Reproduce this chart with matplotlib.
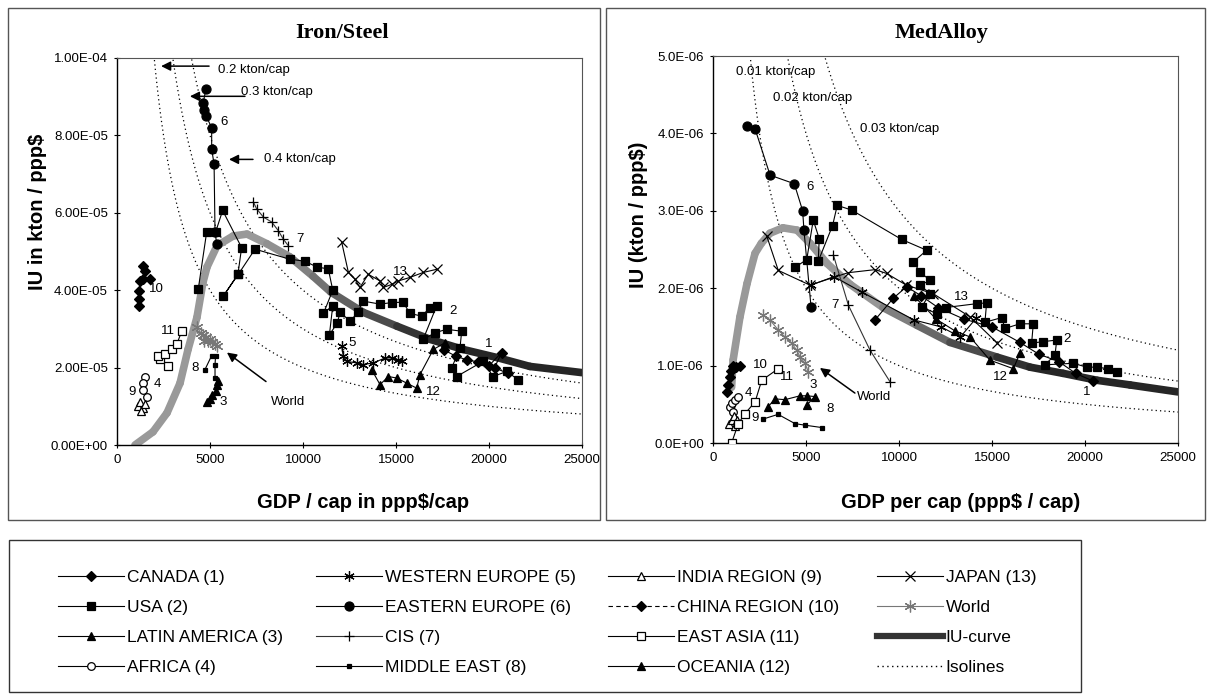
import numpy as np
import matplotlib
matplotlib.use("Agg")
import matplotlib.pyplot as plt
from matplotlib.lines import Line2D
from matplotlib.patches import Rectangle
from matplotlib.collections import LineCollection
from matplotlib.ticker import FuncFormatter, MultipleLocator

plt.rcParams['font.family'] = ['Liberation Sans', 'DejaVu Sans']

W, H = 1207, 697

# ---------------- Iron/Steel data (x: GDP/cap, y: IU kton/ppp$) ----------------
L_IU_X = [968, 1935, 2690, 3390, 3820, 4300, 4620, 4840, 5380, 6240, 6990, 8060, 9300,
          10540, 11500, 13230, 15050, 16830, 18600, 20430, 22200, 25000]
L_IU_Y = [0.0, 0.34e-5, 0.83e-5, 1.6e-5, 2.47e-5, 3.3e-5, 4.2e-5, 4.6e-5, 5.15e-5, 5.4e-5,
          5.45e-5, 5.2e-5, 4.86e-5, 4.36e-5, 3.95e-5, 3.43e-5, 3.07e-5, 2.73e-5, 2.47e-5,
          2.26e-5, 2.03e-5, 1.87e-5]
L_ISO = [0.2, 0.3, 0.4]

L_CANADA_X = [17600, 18200, 18800, 19400, 20000, 20680, 20300, 21000]
L_CANADA_Y = [2.45e-5, 2.3e-5, 2.2e-5, 2.15e-5, 2.05e-5, 2.39e-5, 2.0e-5, 1.85e-5]
L_USA_X = [4370, 4820, 5300, 5680, 6700, 6500, 5720, 6520, 7420, 9300, 10100, 10740, 11360,
           11600, 11100, 11600, 11420, 11830, 12000, 12530, 12960, 13220, 14140, 14770, 15380,
           15750, 16380, 16830, 17190, 16460, 17100, 17720, 18530, 18440, 18000, 18260, 19680,
           20220, 20950, 21560]
L_USA_Y = [4.03e-5, 5.5e-5, 5.5e-5, 6.06e-5, 5.1e-5, 4.41e-5, 3.85e-5, 4.41e-5, 5.06e-5,
           4.8e-5, 4.75e-5, 4.6e-5, 4.55e-5, 4.0e-5, 3.4e-5, 3.6e-5, 2.85e-5, 3.14e-5, 3.43e-5,
           3.2e-5, 3.43e-5, 3.72e-5, 3.64e-5, 3.68e-5, 3.69e-5, 3.4e-5, 3.33e-5, 3.55e-5,
           3.6e-5, 2.73e-5, 2.9e-5, 2.99e-5, 2.94e-5, 2.5e-5, 2.0e-5, 1.77e-5, 2.16e-5,
           1.77e-5, 1.9e-5, 1.69e-5]
L_LATAM_X = [4850, 5000, 5100, 5300, 5400, 5450]
L_LATAM_Y = [1.1e-5, 1.2e-5, 1.3e-5, 1.4e-5, 1.55e-5, 1.65e-5]
L_AFRICA_X = [1500, 1410, 1410, 1590]
L_AFRICA_Y = [1.77e-5, 1.6e-5, 1.43e-5, 1.25e-5]
L_WEUR_X = [12080, 12170, 12350, 12890, 13240, 13780, 14410, 14770, 15130, 15310]
L_WEUR_Y = [2.55e-5, 2.29e-5, 2.16e-5, 2.12e-5, 2.08e-5, 2.12e-5, 2.25e-5, 2.25e-5, 2.2e-5, 2.16e-5]
L_EEUR_X = [4780, 4640, 4680, 4790, 5090, 5090, 5220, 5270, 5360]
L_EEUR_Y = [9.2e-5, 8.85e-5, 8.65e-5, 8.5e-5, 8.2e-5, 7.65e-5, 7.25e-5, 5.5e-5, 5.2e-5]
L_CIS_X = [7330, 7510, 7870, 8320, 8670, 8940, 9210]
L_CIS_Y = [6.28e-5, 6.1e-5, 5.89e-5, 5.76e-5, 5.54e-5, 5.32e-5, 5.15e-5]
L_MEAST_X = [4730, 5090, 5300, 5270, 5270]
L_MEAST_Y = [1.95e-5, 2.31e-5, 2.3e-5, 2.08e-5, 1.74e-5]
L_INDIA_X = [1130, 1250, 1400, 1300, 1500]
L_INDIA_Y = [1.0e-5, 1.1e-5, 0.95e-5, 0.88e-5, 1.05e-5]
L_CHINA_X = [1200, 1200, 1200, 1240, 1410, 1500, 1410, 1770]
L_CHINA_Y = [3.59e-5, 3.77e-5, 3.98e-5, 4.24e-5, 4.29e-5, 4.5e-5, 4.63e-5, 4.29e-5]
L_EASIA_X = [2760, 2310, 2220, 2580, 2940, 3210, 3480]
L_EASIA_Y = [2.03e-5, 2.21e-5, 2.29e-5, 2.34e-5, 2.47e-5, 2.6e-5, 2.94e-5]
L_OCEANIA_X = [13690, 14140, 14590, 15040, 15570, 16110, 16290, 17010, 17630]
L_OCEANIA_Y = [1.95e-5, 1.56e-5, 1.77e-5, 1.73e-5, 1.6e-5, 1.47e-5, 1.82e-5, 2.47e-5, 2.64e-5]
L_JAPAN_X = [12080, 12440, 12800, 13060, 13510, 14140, 14320, 14770, 15130, 15750, 16470, 17190]
L_JAPAN_Y = [5.24e-5, 4.46e-5, 4.28e-5, 4.07e-5, 4.41e-5, 4.24e-5, 4.07e-5, 4.15e-5, 4.24e-5,
             4.33e-5, 4.46e-5, 4.54e-5]
L_WORLD_X = [4300, 4500, 4650, 4800, 4700, 4900, 5000, 5100, 5250, 5400]
L_WORLD_Y = [3.05e-5, 2.9e-5, 2.85e-5, 2.8e-5, 2.7e-5, 2.7e-5, 2.75e-5, 2.65e-5, 2.6e-5, 2.55e-5]

# ---------------- MedAlloy data ----------------
R_IU_X = [1000, 1080, 1450, 1830, 2260, 2600, 3060, 3760, 4520, 5220, 6130, 7370, 9140,
          10970, 12740, 15270, 17040, 18820, 20650, 22420, 25000]
R_IU_Y = [0.72e-6, 1.07e-6, 1.63e-6, 2.06e-6, 2.45e-6, 2.58e-6, 2.71e-6, 2.78e-6, 2.75e-6,
          2.58e-6, 2.32e-6, 2.05e-6, 1.75e-6, 1.52e-6, 1.3e-6, 1.11e-6, 0.98e-6, 0.9e-6,
          0.81e-6, 0.75e-6, 0.66e-6]
R_ISO = [0.01, 0.02, 0.03]

R_CANADA_X = [8710, 9690, 10410, 11200, 12100, 13500, 15000, 16500, 17500, 18600, 19500, 20430]
R_CANADA_Y = [1.59e-6, 1.87e-6, 2.02e-6, 1.9e-6, 1.75e-6, 1.6e-6, 1.5e-6, 1.3e-6, 1.15e-6,
              1.05e-6, 0.9e-6, 0.8e-6]
R_USA_X = [4410, 5040, 5390, 5710, 5660, 6430, 6680, 7450, 10140, 11490, 10770, 11130, 11670,
           11130, 11670, 11220, 12030, 12500, 14170, 14710, 14620, 15520, 15700, 16500, 17220,
           17130, 17760, 18480, 18390, 17850, 19370, 20090, 20630, 21250, 21700]
R_USA_Y = [2.27e-6, 2.37e-6, 2.88e-6, 2.64e-6, 2.35e-6, 2.81e-6, 3.07e-6, 3.01e-6, 2.63e-6,
           2.49e-6, 2.34e-6, 2.21e-6, 2.1e-6, 2.04e-6, 1.93e-6, 1.76e-6, 1.67e-6, 1.75e-6,
           1.8e-6, 1.81e-6, 1.56e-6, 1.62e-6, 1.48e-6, 1.54e-6, 1.54e-6, 1.29e-6, 1.31e-6,
           1.33e-6, 1.14e-6, 1.01e-6, 1.03e-6, 0.98e-6, 0.98e-6, 0.96e-6, 0.92e-6]
R_LATAM_X = [2970, 3330, 3870, 4680, 5040, 5480, 5040]
R_LATAM_Y = [0.47e-6, 0.57e-6, 0.56e-6, 0.61e-6, 0.61e-6, 0.6e-6, 0.49e-6]
R_AFRICA_X = [900, 1000, 1200, 1350, 1100]
R_AFRICA_Y = [0.46e-6, 0.52e-6, 0.56e-6, 0.6e-6, 0.4e-6]
R_WEUR_X = [5280, 6500, 8000, 10800, 12260, 13300, 14140]
R_WEUR_Y = [2.04e-6, 2.15e-6, 1.95e-6, 1.59e-6, 1.5e-6, 1.37e-6, 1.61e-6]
R_EEUR_X = [1810, 2260, 3070, 4370, 4820, 4890, 5270]
R_EEUR_Y = [4.1e-6, 4.06e-6, 3.46e-6, 3.35e-6, 3.0e-6, 2.75e-6, 1.76e-6]
R_CIS_X = [6470, 7280, 8440, 9520]
R_CIS_Y = [2.43e-6, 1.78e-6, 1.2e-6, 0.79e-6]
R_MEAST_X = [2700, 3500, 4410, 4950, 5840]
R_MEAST_Y = [0.31e-6, 0.37e-6, 0.25e-6, 0.23e-6, 0.2e-6]
R_INDIA_X = [850, 1000, 1150, 1300, 1200]
R_INDIA_Y = [0.25e-6, 0.3e-6, 0.35e-6, 0.3e-6, 0.22e-6]
R_CHINA_X = [760, 820, 900, 950, 1050, 1250, 1450]
R_CHINA_Y = [0.66e-6, 0.75e-6, 0.85e-6, 0.93e-6, 1.0e-6, 0.98e-6, 1.0e-6]
R_EASIA_X = [1000, 1360, 1720, 2260, 2620, 3510]
R_EASIA_Y = [0.0, 0.25e-6, 0.38e-6, 0.53e-6, 0.81e-6, 0.96e-6]
R_OCEANIA_X = [10800, 12000, 13000, 13820, 14890, 16150, 16500]
R_OCEANIA_Y = [1.9e-6, 1.6e-6, 1.45e-6, 1.37e-6, 1.07e-6, 0.96e-6, 1.16e-6]
R_JAPAN_X = [2880, 3510, 5210, 7260, 8720, 9340, 10390, 11830, 13820, 15290]
R_JAPAN_Y = [2.68e-6, 2.23e-6, 2.04e-6, 2.2e-6, 2.24e-6, 2.19e-6, 2.04e-6, 1.93e-6, 1.63e-6, 1.29e-6]
R_WORLD_X = [2700, 3060, 3510, 3870, 4230, 4500, 4680, 4950, 5120]
R_WORLD_Y = [1.65e-6, 1.59e-6, 1.46e-6, 1.37e-6, 1.29e-6, 1.2e-6, 1.11e-6, 1.03e-6, 0.92e-6]

NAMES = ['CANADA (1)', 'USA (2)', 'LATIN AMERICA (3)', 'AFRICA (4)', 'WESTERN EUROPE (5)',
         'EASTERN EUROPE (6)', 'CIS (7)', 'MIDDLE EAST (8)', 'INDIA REGION (9)',
         'CHINA REGION (10)', 'EAST ASIA (11)', 'OCEANIA (12)', 'JAPAN (13)', 'World']

LEFT = [(L_CANADA_X, L_CANADA_Y), (L_USA_X, L_USA_Y), (L_LATAM_X, L_LATAM_Y),
        (L_AFRICA_X, L_AFRICA_Y), (L_WEUR_X, L_WEUR_Y), (L_EEUR_X, L_EEUR_Y),
        (L_CIS_X, L_CIS_Y), (L_MEAST_X, L_MEAST_Y), (L_INDIA_X, L_INDIA_Y),
        (L_CHINA_X, L_CHINA_Y), (L_EASIA_X, L_EASIA_Y), (L_OCEANIA_X, L_OCEANIA_Y),
        (L_JAPAN_X, L_JAPAN_Y), (L_WORLD_X, L_WORLD_Y)]
RIGHT = [(R_CANADA_X, R_CANADA_Y), (R_USA_X, R_USA_Y), (R_LATAM_X, R_LATAM_Y),
         (R_AFRICA_X, R_AFRICA_Y), (R_WEUR_X, R_WEUR_Y), (R_EEUR_X, R_EEUR_Y),
         (R_CIS_X, R_CIS_Y), (R_MEAST_X, R_MEAST_Y), (R_INDIA_X, R_INDIA_Y),
         (R_CHINA_X, R_CHINA_Y), (R_EASIA_X, R_EASIA_Y), (R_OCEANIA_X, R_OCEANIA_Y),
         (R_JAPAN_X, R_JAPAN_Y), (R_WORLD_X, R_WORLD_Y)]

ASTER = (6, 2, 0)
STYLES = {
    'CANADA (1)': dict(marker='D', ms=5, mfc='k'),
    'USA (2)': dict(marker='s', ms=6.3, mfc='k'),
    'LATIN AMERICA (3)': dict(marker='^', ms=6, mfc='k'),
    'AFRICA (4)': dict(marker='o', ms=5.5, mfc='white'),
    'WESTERN EUROPE (5)': dict(marker=ASTER, ms=7.5),
    'EASTERN EUROPE (6)': dict(marker='o', ms=6.5, mfc='k'),
    'CIS (7)': dict(marker='+', ms=7.5, color='#333'),
    'MIDDLE EAST (8)': dict(marker='s', ms=3.2, mfc='k'),
    'INDIA REGION (9)': dict(marker='^', ms=5.5, mfc='white'),
    'CHINA REGION (10)': dict(marker='D', ms=5, mfc='k', ls=(0, (4, 3))),
    'EAST ASIA (11)': dict(marker='s', ms=6, mfc='white'),
    'OCEANIA (12)': dict(marker='^', ms=6, mfc='k'),
    'JAPAN (13)': dict(marker='x', ms=6.5),
    'World': dict(marker=ASTER, ms=8.5, color='#777', mec='#777'),
}


def style(name):
    s = dict(color='k', lw=0.8, mec='k', mew=0.9, ls='-')
    s.update(STYLES[name])
    return s


def px(x, y):
    return x / W, 1 - y / H


fig = plt.figure(figsize=(W / 100, H / 100), dpi=100)

axL = fig.add_axes([117 / W, 1 - 445 / H, 465 / W, 387 / H])
axR = fig.add_axes([713 / W, 1 - 443 / H, 465 / W, 387 / H])


def iu_curve(ax, xs, ys):
    pts = np.column_stack([xs, ys])
    segs = np.stack([pts[:-1], pts[1:]], axis=1)
    mid = (pts[:-1, 0] + pts[1:, 0]) / 2
    g = np.interp(mid, [8000, 17000], [0.6, 0.15])
    lc = LineCollection(segs, colors=[(v, v, v) for v in g], linewidths=5.5,
                        capstyle='round', joinstyle='round', zorder=2)
    ax.add_collection(lc)


def setup(ax, ymax, fmt):
    ax.set_xlim(0, 25000)
    ax.set_ylim(0, ymax)
    ax.xaxis.set_major_locator(MultipleLocator(5000))
    ax.yaxis.set_major_locator(MultipleLocator(ymax / 5))
    ax.yaxis.set_major_formatter(FuncFormatter(lambda v, p: fmt.format(v)))
    ax.tick_params(direction='inout', length=5, width=0.8, labelsize=9.5, pad=4)
    for side in ['left', 'bottom']:
        ax.spines[side].set_linewidth(1.0)
    for side in ['top', 'right']:
        ax.spines[side].set_color('#555')
        ax.spines[side].set_linewidth(0.8)


for ax, data, iux, iuy, iso, ymax, fmt in [
        (axL, LEFT, L_IU_X, L_IU_Y, L_ISO, 1e-4, '{:.2E}'),
        (axR, RIGHT, R_IU_X, R_IU_Y, R_ISO, 5e-6, '{:.1E}')]:
    xs = np.linspace(300, 25000, 500)
    for c in iso:
        ax.plot(xs, c / xs, color='k', lw=0.9, ls=(0, (1, 2.5)), zorder=1)
    iu_curve(ax, iux, iuy)
    for name, (x, y) in zip(NAMES, data):
        ax.plot(x, y, zorder=3, **style(name))
    setup(ax, ymax, fmt)

# number labels
LBL_L = [('6', 5750, 8.34e-5), ('7', 9840, 5.32e-5), ('10', 2130, 4.04e-5), ('11', 2760, 2.94e-5),
         ('4', 2170, 1.58e-5), ('9', 790, 1.36e-5), ('8', 4190, 1.99e-5), ('3', 5710, 1.12e-5),
         ('13', 15210, 4.46e-5), ('2', 18080, 3.46e-5), ('5', 12620, 2.64e-5),
         ('1', 20010, 2.62e-5), ('12', 17000, 1.37e-5)]
LBL_R = [('6', 5210, 3.31e-6), ('7', 6560, 1.78e-6), ('10', 2530, 1.01e-6), ('11', 3990, 0.855e-6),
         ('4', 1900, 0.65e-6), ('3', 5390, 0.75e-6), ('8', 6290, 0.435e-6), ('9', 2260, 0.32e-6),
         ('13', 13370, 1.89e-6), ('2', 19010, 1.35e-6), ('12', 15430, 0.855e-6),
         ('1', 20090, 0.66e-6)]
for ax, lbls in [(axL, LBL_L), (axR, LBL_R)]:
    for t, x, y in lbls:
        ax.text(x, y, t, fontsize=9.5, ha='center', va='center', zorder=5)

arrow = dict(arrowstyle='-|>', color='k', lw=1.1, mutation_scale=14, shrinkA=0, shrinkB=0)
axL.annotate('', xy=(2370, 9.79e-5), xytext=(4950, 9.79e-5), arrowprops=arrow)
axL.text(5430, 9.69e-5, '0.2 kton/cap', fontsize=9.5, va='center')
axL.annotate('', xy=(3920, 9.01e-5), xytext=(6880, 9.01e-5), arrowprops=arrow)
axL.text(6670, 9.12e-5, '0.3 kton/cap', fontsize=9.5, va='center')
axL.annotate('', xy=(6020, 7.38e-5), xytext=(7310, 7.38e-5), arrowprops=arrow)
axL.text(7900, 7.38e-5, '0.4 kton/cap', fontsize=9.5, va='center')
axL.annotate('', xy=(5910, 2.39e-5), xytext=(8010, 1.64e-5), arrowprops=arrow)
axL.text(9190, 1.12e-5, 'World', fontsize=9.5, ha='center', va='center')

axR.text(1220, 4.79e-6, '0.01 kton/cap', fontsize=9.5, va='center')
axR.text(3200, 4.46e-6, '0.02 kton/cap', fontsize=9.5, va='center')
axR.text(7900, 4.06e-6, '0.03 kton/cap', fontsize=9.5, va='center')
axR.annotate('', xy=(5750, 0.97e-6), xytext=(7630, 0.645e-6), arrowprops=arrow)
axR.text(7720, 0.6e-6, 'World', fontsize=9.5, va='center')

# titles and axis labels
fig.text(*px(342, 33), 'Iron/Steel', family=['Liberation Serif', 'DejaVu Serif'],
         fontsize=16, fontweight='bold', ha='center', va='center')
fig.text(*px(942, 33), 'MedAlloy', family=['Liberation Serif', 'DejaVu Serif'],
         fontsize=16, fontweight='bold', ha='center', va='center')
fig.text(*px(363, 502), 'GDP / cap in ppp$/cap', fontsize=14.5, fontweight='bold',
         ha='center', va='center')
fig.text(*px(961, 502), 'GDP per cap (ppp$ / cap)', fontsize=14.5, fontweight='bold',
         ha='center', va='center')
fig.text(*px(38, 212), 'IU in kton / ppp$', fontsize=14.5, fontweight='bold',
         ha='center', va='center', rotation=90)
fig.text(*px(639, 215), 'IU (kton / ppp$)', fontsize=14.5, fontweight='bold',
         ha='center', va='center', rotation=90)

# panel frames
for x0, x1 in [(8, 600), (606, 1205)]:
    fig.patches.append(Rectangle(px(x0, 520), (x1 - x0) / W, 512 / H, fill=False,
                                 ec='#555', lw=1.0, transform=fig.transFigure))
fig.patches.append(Rectangle(px(9, 692), 1072 / W, 152 / H, fill=False, ec='#333',
                             lw=1.0, transform=fig.transFigure))

# legend, 4 columns
handles = [Line2D([], [], **style(n)) for n in NAMES]
handles.append(Line2D([], [], color='#333', lw=4.5))
handles.append(Line2D([], [], color='k', lw=1, ls=(0, (1, 2.5))))
labels = NAMES + ['IU-curve', 'Isolines']
for i, xcol in enumerate([58, 316, 608, 877]):
    fig.legend(handles[4 * i:4 * i + 4], labels[4 * i:4 * i + 4], loc='upper left',
               bbox_to_anchor=px(xcol, 570), frameon=False, fontsize=12.5,
               handlelength=3.8, handletextpad=0.15, labelspacing=0.85,
               borderpad=0, borderaxespad=0)

fig.savefig('out.png', dpi=100)
